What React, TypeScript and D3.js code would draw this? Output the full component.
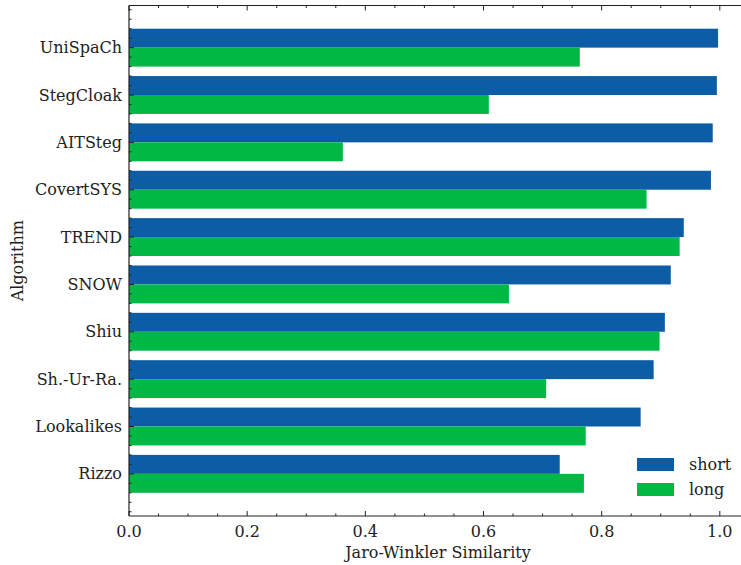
import React from "react";
import * as d3 from "d3";

const categories = ["Rizzo", "Lookalikes", "Sh.-Ur-Ra.", "Shiu", "SNOW", "TREND", "CovertSYS", "AITSteg", "StegCloak", "UniSpaCh"];
const shortValues = [0.729, 0.866, 0.888, 0.907, 0.917, 0.939, 0.985, 0.988, 0.995, 0.997];
const longValues = [0.770, 0.773, 0.706, 0.898, 0.643, 0.932, 0.876, 0.362, 0.609, 0.763];
const xTicks = [0.0, 0.2, 0.4, 0.6, 0.8, 1.0];
const seriesNames = ["short", "long"];
const seriesColors = ["#0C5DA5", "#00B945"];

const W = 741;
const H = 565;
const textStyle = { fontFamily: '"DejaVu Serif"' };
const FS = 16;

export default function App() {
  const x = d3.scaleLinear().domain([0, 1.046]).range([129, 747]);
  const y = d3.scaleLinear().domain([-0.89, 9.89]).range([516, 5.5]);
  const left = x(0);
  const right = x(1.046);
  const top = y(9.89);
  const bottom = y(-0.89);
  const barH = y(0) - y(0.4);

  const minorX = d3.range(0, 1.046, 0.05).filter((v) => !xTicks.some((t) => Math.abs(t - v) < 1e-6));
  const minorY = d3.range(-0.8, 9.9, 0.2).filter((v) => Math.abs(v - Math.round(v)) > 1e-6);

  return (
    <svg width={W} height={H} style={{ position: "absolute", left: 0, top: 0, background: "#fff" }}>
      {categories.map((c, i) => (
        <g key={c}>
          <rect x={left} y={y(i + 0.4)} width={x(shortValues[i]) - left} height={barH} fill={seriesColors[0]} />
          <rect x={left} y={y(i)} width={x(longValues[i]) - left} height={barH} fill={seriesColors[1]} />
        </g>
      ))}
      <g stroke="#222" strokeWidth={1.2} fill="none">
        <line x1={left} x2={left} y1={top} y2={bottom} />
        <line x1={left} x2={right} y1={bottom} y2={bottom} />
        <line x1={left} x2={right} y1={top} y2={top} />
        <line x1={right} x2={right} y1={top} y2={bottom} />
      </g>
      <g stroke="#222" strokeWidth={1}>
        {xTicks.map((t) => (
          <g key={"xt" + t}>
            <line x1={x(t)} x2={x(t)} y1={bottom} y2={bottom - 5} />
            <line x1={x(t)} x2={x(t)} y1={top} y2={top + 5} />
          </g>
        ))}
        {minorX.map((t) => (
          <g key={"xm" + t}>
            <line x1={x(t)} x2={x(t)} y1={bottom} y2={bottom - 2.5} />
            <line x1={x(t)} x2={x(t)} y1={top} y2={top + 2.5} />
          </g>
        ))}
        {categories.map((c, i) => (
          <line key={"yt" + c} x1={left} x2={left + 5} y1={y(i)} y2={y(i)} />
        ))}
        {minorY.map((v) => (
          <line key={"ym" + v} x1={left} x2={left + 2.5} y1={y(v)} y2={y(v)} />
        ))}
      </g>
      {xTicks.map((t) => (
        <text key={"xl" + t} x={x(t)} y={537} textAnchor="middle" fontSize={FS} fill="#222" style={textStyle}>
          {t.toFixed(1)}
        </text>
      ))}
      {categories.map((c, i) => (
        <text key={"yl" + c} x={122} y={y(i)} dy="0.35em" textAnchor="end" fontSize={FS} fill="#222" style={textStyle}>
          {c}
        </text>
      ))}
      <text x={(left + right) / 2} y={558} textAnchor="middle" fontSize={FS} fill="#222" style={textStyle}>
        Jaro-Winkler Similarity
      </text>
      <text transform={`translate(23,${(top + bottom) / 2}) rotate(-90)`} textAnchor="middle" fontSize={FS} fill="#222" style={textStyle}>
        Algorithm
      </text>
      {seriesNames.map((s, i) => (
        <g key={s}>
          <rect x={637} y={458 + i * 25} width={37} height={13} fill={seriesColors[i]} />
          <text x={689} y={470 + i * 25} fontSize={FS} fill="#222" style={textStyle}>
            {s}
          </text>
        </g>
      ))}
    </svg>
  );
}
